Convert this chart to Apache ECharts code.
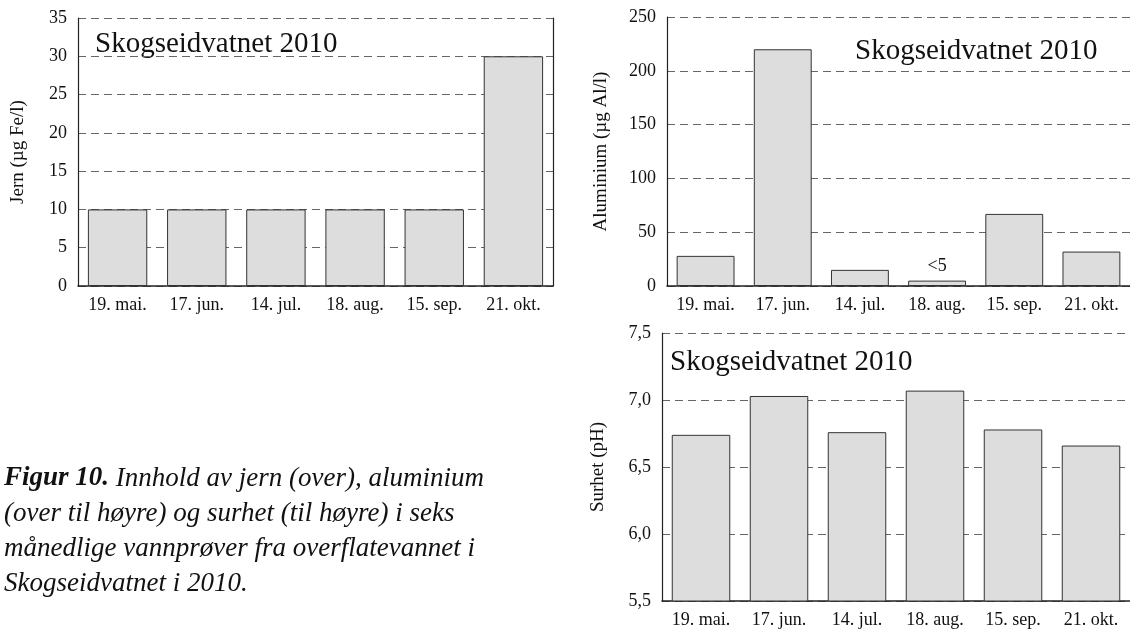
<!DOCTYPE html>
<html>
<head>
<meta charset="utf-8">
<script src="https://cdn.jsdelivr.net/npm/echarts@6/dist/echarts.min.js"></script>
<style>
  html, body { margin: 0; padding: 0; background: #fff; }
  #chart { width: 1130px; height: 630px; }
</style>
</head>
<body>
<div id="chart"></div>
<script>
// ---- data ----
const categories = ['19. mai.', '17. jun.', '14. jul.', '18. aug.', '15. sep.', '21. okt.'];
const jern = [10, 10, 10, 10, 10, 30];
const aluminium = [28, 220, 15, 5, 67, 32];
const aluminiumLabels = ['', '', '', '<5', '', ''];
const surhet = [6.74, 7.03, 6.76, 7.07, 6.78, 6.66];
const chartTitle = 'Skogseidvatnet 2010';
const jernName = 'Jern (µg Fe/l)';
const aluminiumName = 'Aluminium (µg Al/l)';
const surhetName = 'Surhet (pH)';
const captionBold = 'Figur 10.';
const captionRest = [' Innhold av jern (over), aluminium',
  '(over til høyre) og surhet (til høyre) i seks',
  'månedlige vannprøver fra overflatevannet i',
  'Skogseidvatnet i 2010.'];

// ---- styling ----
const FONT = '"Liberation Serif", "Times New Roman", serif';
const TXT = '#111';
const gridLine = { show: true, lineStyle: { color: '#666', type: [8, 5], width: 1 } };
const barStyle = { color: '#dddddd', borderColor: '#333', borderWidth: 1 };

function xAxisFor(i) {
  return {
    type: 'category', gridIndex: i, data: categories,
    axisLine: { show: true, lineStyle: { color: '#222', width: 1.5 } },
    axisTick: { show: false },
    axisLabel: { color: TXT, fontFamily: FONT, fontSize: 18, margin: 10 },
    splitLine: { show: false }
  };
}
function yAxisFor(i, min, max, interval, name, gap, fmt) {
  return {
    type: 'value', gridIndex: i, min: min, max: max, interval: interval,
    name: name, nameLocation: 'middle', nameGap: gap, nameRotate: 90,
    nameTextStyle: { color: TXT, fontFamily: FONT, fontSize: 19 },
    axisLine: { show: true, lineStyle: { color: '#222', width: 1.2 } },
    axisTick: { show: false },
    axisLabel: { color: TXT, fontFamily: FONT, fontSize: 18, margin: 11, formatter: fmt },
    splitLine: gridLine
  };
}

const chart = echarts.init(document.getElementById('chart'), null, { renderer: 'canvas' });

const option = {
  backgroundColor: '#fff',
  animation: false,
  grid: [
    { left: 78, top: 18, width: 475, height: 268 },
    { left: 667, top: 17, width: 466, height: 269 },
    { left: 662, top: 333, width: 472, height: 268 }
  ],
  xAxis: [xAxisFor(0), xAxisFor(1), xAxisFor(2)],
  yAxis: [
    yAxisFor(0, 0, 35, 5, jernName, 50, v => String(v)),
    yAxisFor(1, 0, 250, 50, aluminiumName, 56, v => String(v)),
    yAxisFor(2, 5.5, 7.5, 0.5, surhetName, 54, v => v.toFixed(1).replace('.', ',')),
    {
      type: 'value', gridIndex: 0, position: 'right', min: 0, max: 35, interval: 5,
      axisLine: { show: true, lineStyle: { color: '#222', width: 1.2 } },
      axisTick: { show: false }, axisLabel: { show: false }, splitLine: { show: false }
    }
  ],
  graphic: [
    { type: 'text', left: 95, top: 30, style: { text: chartTitle, font: '29px ' + FONT, fill: TXT } },
    { type: 'text', left: 855, top: 37, style: { text: chartTitle, font: '29px ' + FONT, fill: TXT } },
    { type: 'text', left: 670, top: 348, style: { text: chartTitle, font: '29px ' + FONT, fill: TXT } },
    {
      type: 'text', left: 4, top: 465,
      style: {
        text: '{b|' + captionBold + '}{i|' + captionRest[0] + '}\n{i|' + captionRest.slice(1).join('}\n{i|') + '}',
        rich: {
          b: { font: 'italic bold 27px ' + FONT, fill: TXT, lineHeight: 35 },
          i: { font: 'italic 27px ' + FONT, fill: TXT, lineHeight: 35 }
        },
        fill: TXT
      }
    }
  ],
  series: [
    {
      type: 'bar', xAxisIndex: 0, yAxisIndex: 0, data: jern,
      barCategoryGap: '25%', itemStyle: barStyle
    },
    {
      type: 'bar', xAxisIndex: 1, yAxisIndex: 1,
      data: aluminium.map((v, i) => ({
        value: v,
        label: aluminiumLabels[i] ? {
          show: true, position: 'top', distance: 5, formatter: aluminiumLabels[i],
          color: TXT, fontFamily: FONT, fontSize: 18
        } : { show: false }
      })),
      barCategoryGap: '25%', itemStyle: barStyle
    },
    {
      type: 'bar', xAxisIndex: 2, yAxisIndex: 2, data: surhet,
      barCategoryGap: '25%', itemStyle: barStyle
    }
  ]
};
chart.setOption(option);
</script>
</body>
</html>
